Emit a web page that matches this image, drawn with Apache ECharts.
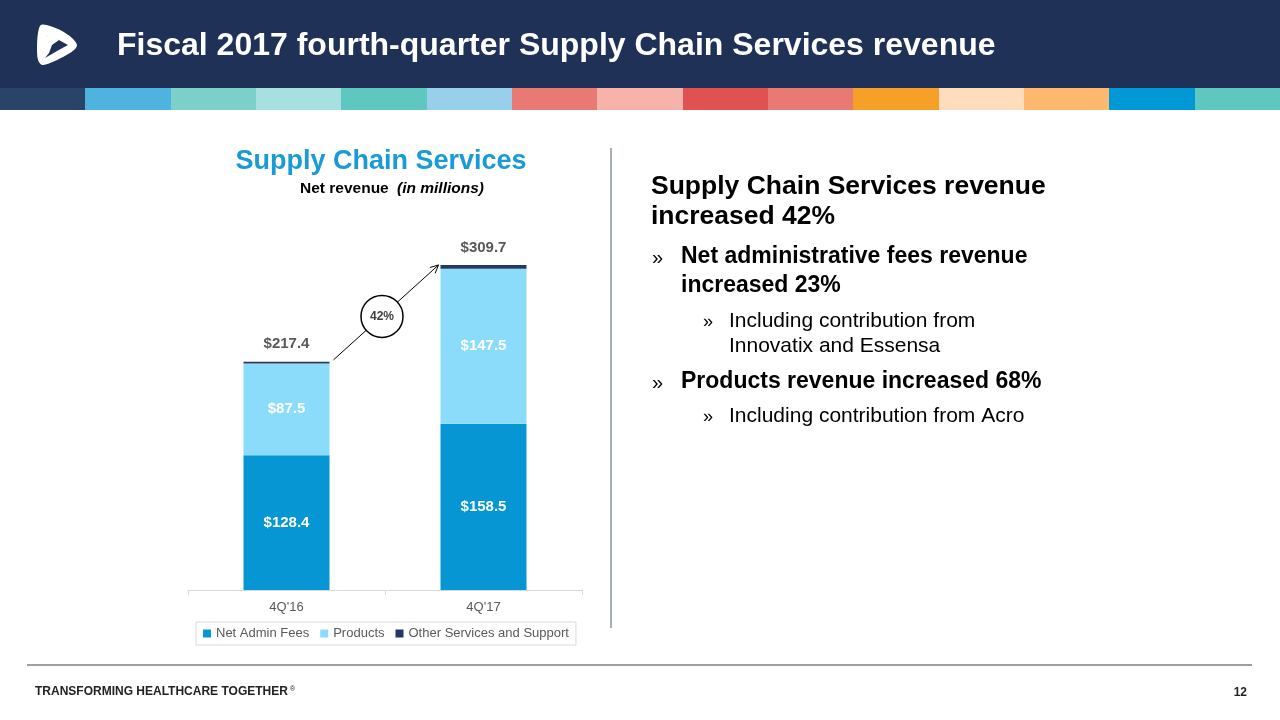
<!DOCTYPE html>
<html>
<head>
<meta charset="utf-8">
<script src="https://cdn.jsdelivr.net/npm/echarts@6/dist/echarts.min.js"></script>
<style>
html,body{margin:0;padding:0;background:#fff;}
#c{width:1280px;height:720px;}
</style>
</head>
<body>
<div id="c"></div>
<script>
var categories = ["4Q'16", "4Q'17"];
var netAdminFees = [128.4, 158.5];
var products = [87.5, 147.5];
var otherServices = [1.5, 3.7];
var totals = [217.4, 309.7];
var growthLabel = "42%";
var seriesNames = ["Net Admin Fees", "Products", "Other Services and Support"];

var FONT = "Liberation Sans, Arial, sans-serif";
var stripColors = ["#2a4369","#4fb3e0","#7dcfca","#a8dfe0","#5ec8c0","#98d0ec","#e97a73","#f7b3aa","#e05252","#e97a73","#f7a028","#fedcbc","#ffb96e","#0099d5","#5ec8c0"];

var chart = echarts.init(document.getElementById('c'), null, {renderer:'canvas'});

var staticGraphics = [];
staticGraphics.push({type:'rect', shape:{x:0,y:0,width:1280,height:88}, style:{fill:'#1f3157'}, silent:true});
var segW = 1280/stripColors.length;
stripColors.forEach(function(col,i){
  staticGraphics.push({type:'rect', shape:{x:Math.round(i*segW),y:88,width:Math.ceil(segW)+1,height:22}, style:{fill:col}, silent:true});
});
// logo (approximate)
staticGraphics.push({type:'polygon', shape:{points:[[41,25],[50,26],[62,31],[72,38],[77,45],[74,50],[63,57],[50,63],[42,65],[38,60],[37,48],[38,33]], smooth:0.3}, style:{fill:'#ffffff'}, silent:true});
staticGraphics.push({type:'polygon', shape:{points:[[46,35],[57,39],[68,45],[57,51],[45,58],[50,47]]}, style:{fill:'#1f3157'}, silent:true});
staticGraphics.push({type:'polygon', shape:{points:[[46,35],[53,36],[59,40],[52,45],[49,53],[45,58]]}, style:{fill:'#ffffff'}, silent:true});
staticGraphics.push({type:'text', style:{x:117,y:46,text:'Fiscal 2017 fourth-quarter Supply Chain Services revenue',fill:'#ffffff',font:'bold 32px '+FONT,textVerticalAlign:'middle'}});
// chart titles
staticGraphics.push({type:'text', style:{x:381,y:162,text:'Supply Chain Services',fill:'#1a9ad6',font:'bold 27px '+FONT,textAlign:'center',textVerticalAlign:'middle'}});
staticGraphics.push({type:'text', style:{x:300,y:189,text:'Net revenue ',fill:'#000',font:'bold 15.5px '+FONT,textVerticalAlign:'middle'}});
staticGraphics.push({type:'text', style:{x:397,y:189,text:'(in millions)',fill:'#000',font:'italic bold 15.5px '+FONT,textVerticalAlign:'middle'}});
// divider
staticGraphics.push({type:'line', shape:{x1:611,y1:148,x2:611,y2:628}, style:{stroke:'#8a94a6',lineWidth:1.5}, silent:true});
// right text
function txt(x,y,s,font){staticGraphics.push({type:'text',style:{x:x,y:y,text:s,fill:'#000',font:font,textVerticalAlign:'middle'}});}
var H = 'bold 26.5px '+FONT, B='bold 23px '+FONT, R='21px '+FONT;
txt(651,187,'Supply Chain Services revenue',H);
txt(651,217,'increased 42%',H);
txt(652,258,'»','20px '+FONT); txt(681,257,'Net administrative fees revenue',B);
txt(681,286,'increased 23%',B);
txt(703,322,'»','18px '+FONT); txt(729,321,'Including contribution from',R);
txt(729,346,'Innovatix and Essensa',R);
txt(652,383,'»','20px '+FONT); txt(681,382,'Products revenue increased 68%',B);
txt(703,417,'»','18px '+FONT); txt(729,416,'Including contribution from Acro',R);
// footer
staticGraphics.push({type:'line', shape:{x1:27,y1:665,x2:1252,y2:665}, style:{stroke:'#7f7f7f',lineWidth:1.5}, silent:true});
staticGraphics.push({type:'text', style:{x:35,y:692,text:'TRANSFORMING HEALTHCARE TOGETHER',fill:'#222',font:'bold 12px '+FONT,textVerticalAlign:'middle'}});
staticGraphics.push({type:'text', style:{x:290,y:689,text:'®',fill:'#222',font:'7px '+FONT,textVerticalAlign:'middle'}});
staticGraphics.push({type:'text', style:{x:1247,y:693,text:'12',fill:'#222',font:'bold 12px '+FONT,textAlign:'right',textVerticalAlign:'middle'}});

var inLabel = {show:true, position:'inside', color:'#ffffff', fontFamily:FONT, fontWeight:'bold', fontSize:15,
  formatter:function(p){return '$'+p.value.toFixed(1);}};

var option = {
  animation:false,
  backgroundColor:'#ffffff',
  textStyle:{fontFamily:FONT},
  grid:{left:188, right:698, top:222.7, bottom:130, containLabel:false},
  xAxis:{type:'category', data:categories,
    axisLine:{lineStyle:{color:'#d9d9d9',width:1}},
    axisTick:{show:true,length:5,lineStyle:{color:'#d9d9d9'}},
    axisLabel:{color:'#595959',fontSize:13,fontFamily:FONT,margin:11}},
  yAxis:{type:'value', min:0, max:350, show:false, splitLine:{show:false}},
  legend:{data:seriesNames, left:196, top:622, width:379, height:24, padding:[5,7,5,7],
    borderColor:'#d9d9d9', borderWidth:1, itemWidth:8, itemHeight:8, itemGap:11, icon:'rect',
    textStyle:{color:'#595959',fontSize:13,fontFamily:FONT}},
  series:[
    {name:seriesNames[0], type:'bar', stack:'s', barWidth:86, data:netAdminFees, itemStyle:{color:'#0596d3'}, label:inLabel},
    {name:seriesNames[1], type:'bar', stack:'s', barWidth:86, data:products, itemStyle:{color:'#8bdcfb'}, label:inLabel},
    {name:seriesNames[2], type:'bar', stack:'s', barWidth:86, data:otherServices, itemStyle:{color:'#223a60'},
      label:{show:true, position:'top', distance:10, color:'#595959', fontFamily:FONT, fontWeight:'bold', fontSize:15,
        formatter:function(p){return '$'+totals[p.dataIndex].toFixed(1);}}}
  ],
  graphic:staticGraphics
};
chart.setOption(option);

// growth arrow annotation anchored to the bar tops
var p0 = chart.convertToPixel({gridIndex:0}, [0, totals[0]]);
var p1 = chart.convertToPixel({gridIndex:0}, [1, totals[1]]);
var x1 = p0[0]+47, y1 = p0[1]-2, x2 = p1[0]-45, y2 = p1[1];
var ang = Math.atan2(y2-y1, x2-x1);
var ah = 9;
var a1 = [x2 - ah*Math.cos(ang-0.45), y2 - ah*Math.sin(ang-0.45)];
var a2 = [x2 - ah*Math.cos(ang+0.45), y2 - ah*Math.sin(ang+0.45)];
var cx = (x1+x2)/2 - 4, cy = (y1+y2)/2 + 4;
var extra = [
  {type:'line', shape:{x1:x1,y1:y1,x2:x2,y2:y2}, style:{stroke:'#000',lineWidth:1}, z:10},
  {type:'polyline', shape:{points:[a1,[x2,y2],a2]}, style:{stroke:'#000',lineWidth:1}, z:10},
  {type:'circle', shape:{cx:cx,cy:cy,r:21}, style:{fill:'#ffffff',stroke:'#000',lineWidth:1.5}, z:11},
  {type:'text', style:{x:cx,y:cy,text:growthLabel,fill:'#404040',font:'bold 12px '+FONT,textAlign:'center',textVerticalAlign:'middle'}, z:12}
];
chart.setOption({graphic:staticGraphics.concat(extra)});
</script>
</body>
</html>
